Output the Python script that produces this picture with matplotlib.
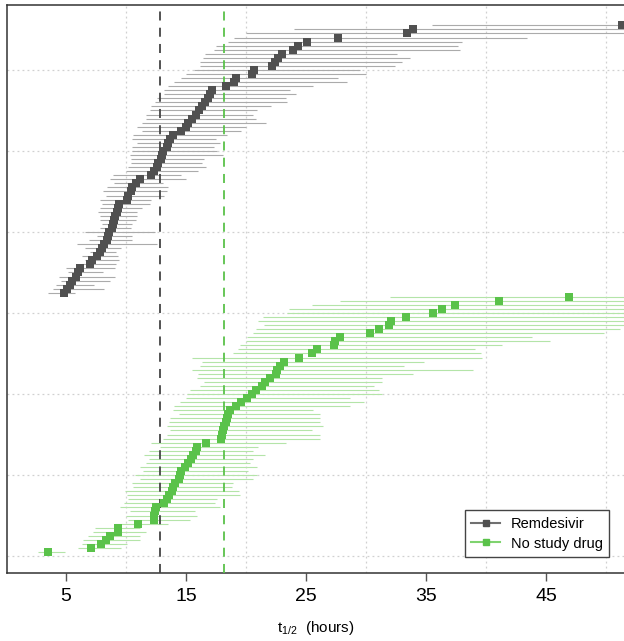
import matplotlib
matplotlib.use("Agg")
import matplotlib.pyplot as plt
import numpy as np

plt.rcParams['font.family'] = ['Liberation Sans', 'DejaVu Sans']

# No study drug (green), rows 1..64, sorted by half-life
nsd_est = [3.5, 7.1, 7.9, 8.3, 8.7, 9.3, 9.3, 11.0, 12.3, 12.3,
           12.4, 12.5, 13.2, 13.4, 13.6, 13.8, 13.9, 14.1, 14.4, 14.5,
           14.6, 14.9, 15.2, 15.4, 15.6, 15.8, 15.9, 16.7, 17.9, 18.0,
           18.1, 18.2, 18.3, 18.4, 18.5, 18.7, 19.2, 19.6, 20.1, 20.5,
           20.8, 21.3, 21.6, 22.0, 22.5, 22.6, 22.8, 23.2, 24.4, 25.5,
           25.9, 27.3, 27.4, 27.8, 30.3, 31.1, 31.9, 32.1, 33.3, 35.6,
           36.3, 37.4, 41.1, 46.9]
nsd_lo = [2.7, 6.0, 6.3, 6.4, 6.8, 7.25, 7.4, 9.1, 10.2, 10.0,
          10.3, 9.5, 9.8, 10.2, 10.1, 9.9, 10.6, 10.5, 11.2, 10.75,
          11.4, 11.2, 11.7, 11.9, 11.5, 11.9, 12.8, 12.1, 13.1, 13.4,
          13.7, 13.4, 13.6, 13.7, 14.4, 13.9, 14.0, 14.5, 15.0, 15.1,
          15.3, 16.2, 16.5, 15.9, 16.0, 15.5, 16.2, 16.3, 15.5, 18.9,
          19.3, 19.5, 20.0, 20.1, 20.6, 20.8, 21.5, 21.0, 21.4, 23.4,
          23.6, 25.5, 27.8, 32.0]
nsd_hi = [4.9, 9.6, 10.1, 11.2, 11.2, 11.7, 11.2, 13.5, 15.3, 15.9,
          15.75, 17.8, 17.4, 17.6, 19.5, 19.4, 18.8, 18.9, 20.6, 20.9,
          20.2, 20.9, 20.3, 20.6, 21.6, 20.6, 21.0, 23.3, 26.2, 26.2,
          25.5, 26.4, 26.2, 26.2, 26.2, 25.6, 28.7, 29.8, 28.7, 31.3,
          31.1, 30.7, 31.3, 31.3, 33.9, 38.9, 33.2, 34.8, 39.7, 39.6,
          39.1, 41.3, 45.3, 43.8, 49.8, 51.2, 52.0, 55.0, 56.0, 58.0,
          60.0, 62.0, 66.0, 75.0]

# Remdesivir (grey), rows 65..131
rem_est = [4.8, 5.1, 5.3, 5.5, 5.8, 6.0, 6.2, 7.0, 7.2, 7.6,
           7.8, 8.0, 8.2, 8.4, 8.5, 8.6, 8.8, 8.9, 9.0, 9.1,
           9.25, 9.3, 9.4, 10.1, 10.2, 10.4, 10.5, 10.8, 11.2, 12.1,
           12.3, 12.6, 12.7, 12.9, 13.0, 13.1, 13.4, 13.5, 13.7, 13.9,
           14.6, 15.0, 15.2, 15.5, 15.8, 16.1, 16.3, 16.6, 16.8, 17.0,
           17.2, 18.3, 19.0, 19.2, 20.5, 20.7, 22.2, 22.4, 22.7, 23.0,
           23.9, 24.3, 25.1, 27.7, 33.4, 33.9, 51.3]
rem_lo = [3.5, 3.9, 4.2, 4.6, 4.4, 5.2, 5.0, 6.3, 6.6, 6.3,
          7.0, 6.6, 5.9, 6.9, 7.6, 6.6, 7.8, 8.0, 7.8, 7.8,
          7.7, 7.8, 8.0, 7.8, 8.3, 8.1, 8.4, 9.0, 8.7, 8.9,
          10.0, 10.2, 10.4, 10.4, 10.3, 10.5, 10.5, 10.9, 10.5, 10.6,
          11.3, 10.9, 11.3, 11.7, 11.7, 12.0, 12.1, 12.4, 12.6, 13.2,
          13.2, 13.5, 14.0, 14.6, 15.0, 15.7, 16.2, 16.2, 16.4, 16.6,
          17.3, 17.5, 18.5, 19.0, 20.0, 24.0, 35.5]
rem_hi = [5.75, 8.2, 7.3, 8.7, 9.1, 8.1, 9.1, 9.2, 9.4, 9.3,
          9.2, 9.6, 12.6, 10.5, 10.5, 12.4, 10.4, 10.5, 10.8, 10.9,
          10.9, 11.3, 12.0, 12.1, 13.2, 13.4, 13.5, 13.1, 15.0, 14.6,
          16.0, 16.7, 16.3, 16.5, 18.1, 17.6, 17.3, 17.8, 17.5, 18.4,
          19.6, 20.0, 21.7, 20.8, 20.6, 20.9, 22.1, 23.4, 23.3, 24.2,
          23.7, 25.6, 28.4, 27.7, 30.0, 29.5, 32.4, 33.0, 33.7, 32.6,
          37.8, 37.7, 38.0, 43.4, 58.0, 56.0, 75.0]

rem_median = 12.8
nsd_median = 18.2

grey_dark = '#505050'
grey_ci = '#ababab'
green_dark = '#5ac24a'
green_ci = '#b4e4a8'

y_nsd = np.arange(1, len(nsd_est) + 1)
y_rem = np.arange(len(nsd_est) + 1, len(nsd_est) + len(rem_est) + 1)

fig = plt.figure(figsize=(6.24, 6.41), dpi=100)
ax = fig.add_axes([0.012, 0.106, 0.988, 0.886])

ax.hlines(y_rem, rem_lo, rem_hi, color=grey_ci, lw=0.8, zorder=2)
ax.hlines(y_nsd, nsd_lo, nsd_hi, color=green_ci, lw=0.8, zorder=2)
ax.plot(rem_est, y_rem, 's', color=grey_dark, ms=5.5, mew=0, zorder=4)
ax.plot(nsd_est, y_nsd, 's', color=green_dark, ms=5.5, mew=0, zorder=4)

ax.axvline(rem_median, color='#444444', ls=(0, (5, 4)), lw=1.3, zorder=3)
ax.axvline(nsd_median, color=green_dark, ls=(0, (5, 4)), lw=1.3, zorder=3)

ax.set_xlim(0.12, 51.5)
ax.set_ylim(-4.2, 136)
ax.set_xticks([5, 15, 25, 35, 45])
ax.set_xticks([10, 20, 30, 40, 50], minor=True)
ax.set_yticks(np.arange(0, 121, 20))
ax.tick_params(axis='x', which='major', length=6, width=1, color='#555555',
               labelsize=14, pad=5)
ax.tick_params(axis='x', which='minor', length=0)
ax.tick_params(axis='y', length=0, labelleft=False)
ax.grid(True, which='minor', axis='x', color='#d0d0d0', ls=(0, (1.5, 2.5)), lw=0.9)
ax.grid(True, which='major', axis='y', color='#d0d0d0', ls=(0, (1.5, 2.5)), lw=0.9)
ax.set_axisbelow(True)

for side in ['top', 'bottom', 'left']:
    ax.spines[side].set_color('#333333')
    ax.spines[side].set_linewidth(1.1)
ax.spines['right'].set_visible(False)

ax.set_xlabel(r'$\mathregular{t_{1/2}}$  (hours)', fontsize=11, labelpad=10)

ax.plot([], [], '-s', color='#707070', mfc=grey_dark, mec=grey_dark, ms=4,
        lw=1.5, label='Remdesivir')
ax.plot([], [], '-s', color='#7fd36f', mfc=green_dark, mec=green_dark, ms=4,
        lw=1.5, label='No study drug')
leg = ax.legend(loc='lower right', bbox_to_anchor=(0.976, 0.028), borderaxespad=0,
                fontsize=10.5, fancybox=False, framealpha=1, edgecolor='#444444',
                handlelength=2.0, handletextpad=0.7, borderpad=0.45,
                labelspacing=0.4)
leg.get_frame().set_linewidth(1.0)

fig.savefig('out.png', dpi=100)
